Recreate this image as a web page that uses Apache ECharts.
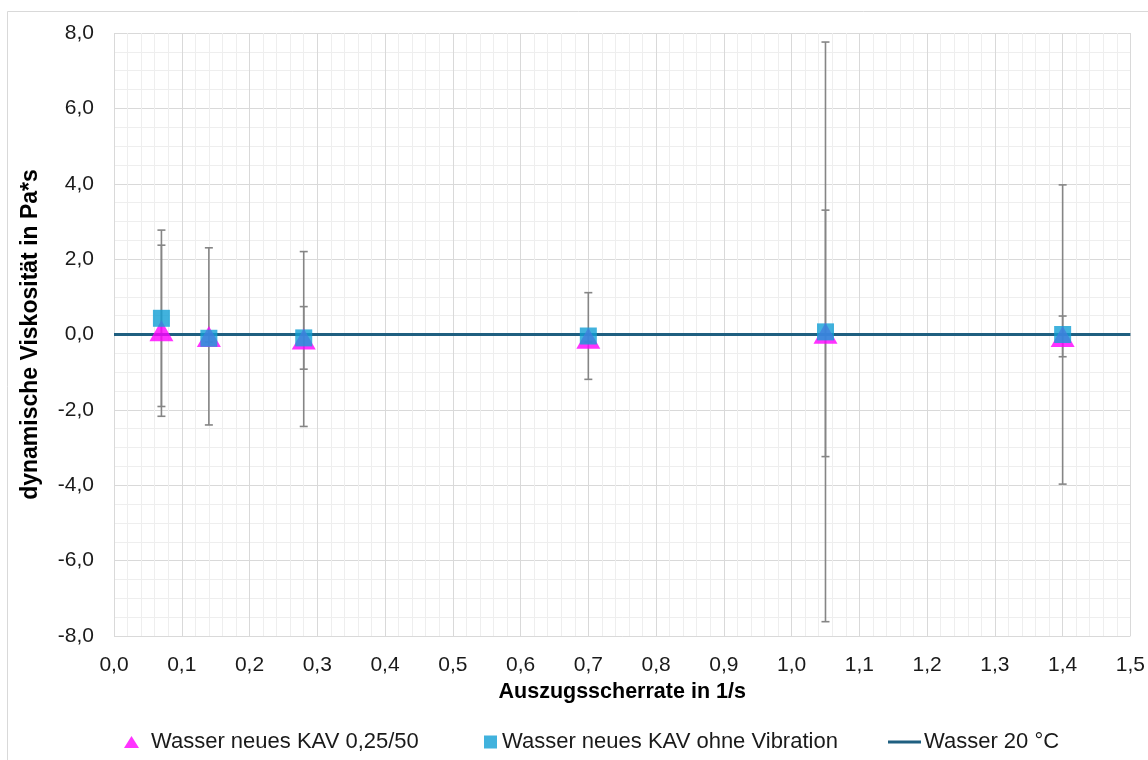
<!DOCTYPE html>
<html>
<head>
<meta charset="utf-8">
<script src="https://cdn.jsdelivr.net/npm/echarts@6/dist/echarts.min.js"></script>
<style>
  html, body { margin: 0; padding: 0; background: #fff; }
  #chart { width: 1148px; height: 760px; }
</style>
</head>
<body>
<div id="chart"></div>
<script>
// Shear rates (1/s) of the measurement points
const shearRates = [0.07, 0.14, 0.28, 0.70, 1.05, 1.40];

// Viscosity with vibration KAV 0,25/50 (Pa*s) and its standard deviation
const kavVibValues = [0.10, -0.05, -0.12, -0.10, 0.03, -0.05];
const kavVibErrors = [2.27, 2.35, 2.32, 0.10, 3.27, 0.54];

// Viscosity without vibration (Pa*s) and its standard deviation
const kavNoVibValues = [0.43, -0.10, -0.09, -0.04, 0.07, 0.00];
const kavNoVibErrors = [2.34, 0.10, 0.83, 1.15, 7.69, 3.97];

// Reference: water at 20 °C
const waterX = [0, 1.5];
const waterValues = [0.001, 0.001];

const names = ['Wasser neues KAV 0,25/50', 'Wasser neues KAV ohne Vibration', 'Wasser 20 °C'];

const FONT = 'Liberation Sans';
const fmt = v => v.toFixed(1).replace('.', ',');

function pairs(xs, ys) { return xs.map((x, i) => [x, ys[i]]); }
function errData(xs, ys, es) { return xs.map((x, i) => [x, ys[i] - es[i], ys[i] + es[i]]); }

// vertical error bar with short caps at both ends
function errorBar(params, api) {
  const x = api.value(0);
  const lo = api.coord([x, api.value(1)]);
  const hi = api.coord([x, api.value(2)]);
  const cap = 4;
  const style = { stroke: '#858585', lineWidth: 1.6, fill: null };
  return {
    type: 'group',
    children: [
      { type: 'line', shape: { x1: hi[0], y1: hi[1], x2: lo[0], y2: lo[1] }, style },
      { type: 'line', shape: { x1: hi[0] - cap, y1: hi[1], x2: hi[0] + cap, y2: hi[1] }, style },
      { type: 'line', shape: { x1: lo[0] - cap, y1: lo[1], x2: lo[0] + cap, y2: lo[1] }, style }
    ]
  };
}

const legendText = { fontFamily: FONT, fontSize: 22, color: '#1a1a1a', lineHeight: 22 };

const chart = echarts.init(document.getElementById('chart'), null, { renderer: 'canvas' });
chart.setOption({
  animation: false,
  backgroundColor: '#fff',
  graphic: [{
    type: 'rect', silent: true, z: -10,
    shape: { x: 7.5, y: 11.5, width: 1160, height: 780 },
    style: { fill: null, stroke: '#d9d9d9', lineWidth: 1 }
  }],
  grid: { left: 114, right: 17, top: 33, bottom: 124, containLabel: false },
  xAxis: {
    type: 'value', min: 0, max: 1.5, interval: 0.1,
    name: 'Auszugsscherrate in 1/s', nameLocation: 'middle', nameGap: 44,
    nameTextStyle: { fontFamily: FONT, fontSize: 21.5, fontWeight: 'bold', color: '#000' },
    axisLine: { show: false }, axisTick: { show: false },
    axisLabel: { formatter: fmt, fontFamily: FONT, fontSize: 21, color: '#1a1a1a', margin: 19 },
    splitLine: { show: true, lineStyle: { color: '#d9d9d9', width: 1 } },
    minorTick: { show: false, splitNumber: 5 },
    minorSplitLine: { show: true, lineStyle: { color: '#eeeeee', width: 1 } }
  },
  yAxis: {
    type: 'value', min: -8, max: 8, interval: 2,
    name: 'dynamische Viskosität in Pa*s', nameLocation: 'middle', nameGap: 72,
    nameTextStyle: { fontFamily: FONT, fontSize: 23, fontWeight: 'bold', color: '#000' },
    axisLine: { show: false }, axisTick: { show: false },
    axisLabel: { formatter: fmt, fontFamily: FONT, fontSize: 21, color: '#1a1a1a', margin: 20 },
    splitLine: { show: true, lineStyle: { color: '#d9d9d9', width: 1 } },
    minorTick: { show: false, splitNumber: 4 },
    minorSplitLine: { show: true, lineStyle: { color: '#eeeeee', width: 1 } }
  },
  legend: [
    { data: [names[0]], left: 124, top: 731, padding: 0, itemWidth: 15, itemHeight: 12,
      textStyle: Object.assign({ padding: [0, 0, 0, 7] }, legendText) },
    { data: [names[1]], left: 484, top: 731, padding: 0, itemWidth: 13, itemHeight: 13,
      textStyle: legendText },
    { data: [{ name: names[2], icon: 'rect' }], left: 888, top: 731, padding: 0, itemWidth: 33, itemHeight: 3,
      textStyle: Object.assign({ padding: [0, 0, 0, -2] }, legendText) }
  ],
  series: [
    {
      type: 'custom', name: 'err1', renderItem: errorBar, z: 2, silent: true,
      data: errData(shearRates, kavVibValues, kavVibErrors)
    },
    {
      type: 'custom', name: 'err2', renderItem: errorBar, z: 2, silent: true,
      data: errData(shearRates, kavNoVibValues, kavNoVibErrors)
    },
    {
      type: 'line', name: names[2], data: pairs(waterX, waterValues), z: 3,
      symbol: 'none', lineStyle: { color: '#1f5f80', width: 3 }, itemStyle: { color: '#1f5f80' }
    },
    {
      type: 'scatter', name: names[0], data: pairs(shearRates, kavVibValues), z: 4,
      symbol: 'triangle', symbolSize: [24, 21], itemStyle: { color: '#ff00ff' }
    },
    {
      type: 'scatter', name: names[1], data: pairs(shearRates, kavNoVibValues), z: 5,
      symbol: 'rect', symbolSize: 17, itemStyle: { color: '#129fd5' }
    }
  ]
});
</script>
</body>
</html>
